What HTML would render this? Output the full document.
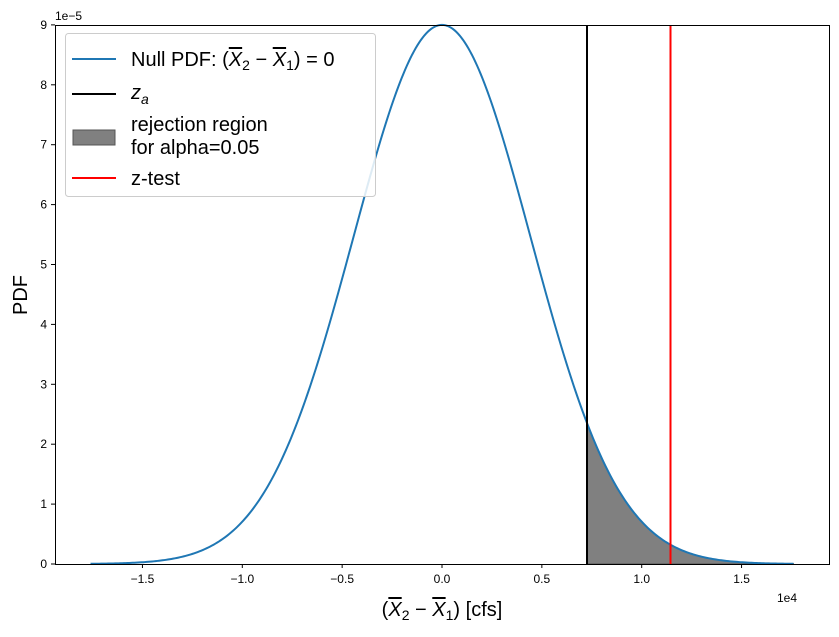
<!DOCTYPE html>
<html><head><meta charset="utf-8"><style>
body{margin:0;background:#fff;}
svg text{font-family:"Liberation Sans","DejaVu Sans",sans-serif;}
</style></head><body>
<svg id="s" width="839" height="632" xmlns="http://www.w3.org/2000/svg">
<rect width="839" height="632" fill="#fff"/>
<path id="fill" fill="#808080" stroke="#555" stroke-width="1"/>
<path id="curve" fill="none" stroke="#1f77b4" stroke-width="2"/>
<line x1="587" y1="25" x2="587" y2="564" stroke="#000" stroke-width="2"/>
<line x1="670.5" y1="25" x2="670.5" y2="564" stroke="#ff0000" stroke-width="2"/>
<rect x="55.5" y="25.5" width="774" height="539" fill="none" stroke="#000" stroke-width="1"/>
<g id="ticks" stroke="#000" stroke-width="1"></g>
<g font-size="12" fill="#000" id="labels"></g>
<text x="55" y="20" font-size="12">1e−5</text>
<text x="777" y="602" font-size="12">1e4</text>
<text x="442" y="616" font-size="20" text-anchor="middle">(<tspan text-decoration="overline" font-style="italic">X</tspan><tspan font-size="14" dy="4">2</tspan><tspan dy="-4"> − </tspan><tspan text-decoration="overline" font-style="italic">X</tspan><tspan font-size="14" dy="4">1</tspan><tspan dy="-4">) [cfs]</tspan></text>
<text transform="translate(27,295) rotate(-90)" font-size="20" text-anchor="middle">PDF</text>
<g>
<rect x="65.5" y="33.5" width="310" height="163" rx="3" fill="#fff" fill-opacity="0.85" stroke="#ccc"/>
<line x1="72" y1="59" x2="116" y2="59" stroke="#1f77b4" stroke-width="2"/>
<text x="131" y="66" font-size="20">Null PDF: (<tspan text-decoration="overline" font-style="italic">X</tspan><tspan font-size="14" dy="4">2</tspan><tspan dy="-4"> − </tspan><tspan text-decoration="overline" font-style="italic">X</tspan><tspan font-size="14" dy="4">1</tspan><tspan dy="-4">) = 0</tspan></text>
<line x1="72" y1="94" x2="116" y2="94" stroke="#000" stroke-width="2"/>
<text x="131" y="99" font-size="20" font-style="italic">z<tspan font-size="14" dy="5">a</tspan></text>
<rect x="73" y="130" width="42" height="15" fill="#808080" stroke="#555"/>
<text x="131" y="131" font-size="20">rejection region</text>
<text x="131" y="154" font-size="20">for alpha=0.05</text>
<line x1="72" y1="178" x2="116" y2="178" stroke="#ff0000" stroke-width="2"/>
<text x="131" y="185" font-size="20">z-test</text>
</g>
</svg>
<script>
var X=v=>442+v*199.7e-4, Y=v=>564-v*59.9e5;
var s=4433, pk=9e-5;
function f(x){return pk*Math.exp(-x*x/(2*s*s));}
var d="",fd="";
for(var i=0;i<=400;i++){var x=-17600+35200*i/400;d+=(i?"L":"M")+X(x).toFixed(2)+","+Y(f(x)).toFixed(2);}
document.getElementById("curve").setAttribute("d",d);
var a=7260;fd="M"+X(a)+","+Y(0);
for(var i=0;i<=200;i++){var x=a+(17600-a)*i/200;fd+="L"+X(x).toFixed(2)+","+Y(f(x)).toFixed(2);}
fd+="L"+X(17600)+","+Y(0)+"Z";
document.getElementById("fill").setAttribute("d",fd);
var t=document.getElementById("ticks"),l=document.getElementById("labels"),ns="http://www.w3.org/2000/svg";
function el(p,n,at,tx){var e=document.createElementNS(ns,n);for(var k in at)e.setAttribute(k,at[k]);if(tx!=null)e.textContent=tx;p.appendChild(e);}
[-1.5,-1,-0.5,0,0.5,1,1.5].forEach(v=>{var x=X(v*1e4);el(t,"line",{x1:x,y1:564,x2:x,y2:568});el(l,"text",{x:x,y:583,"text-anchor":"middle"},(v<0?"−":"")+Math.abs(v).toFixed(1));});
for(var v=0;v<=9;v++){var y=Y(v*1e-5);el(t,"line",{x1:51,y1:y,x2:55,y2:y});el(l,"text",{x:47,y:y+4,"text-anchor":"end"},String(v));}
</script>
</body></html>
